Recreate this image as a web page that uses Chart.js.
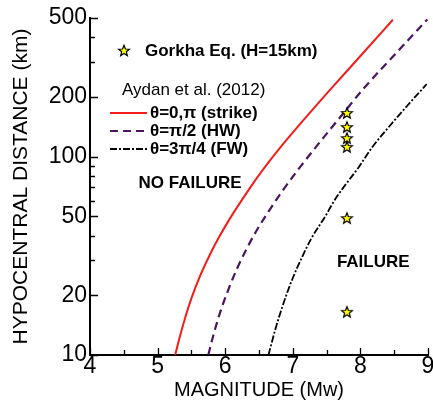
<!DOCTYPE html>
<html>
<head>
<meta charset="utf-8">
<script src="https://cdn.jsdelivr.net/npm/chart.js@4.4.1/dist/chart.umd.min.js"></script>
<style>
  html, body { margin: 0; padding: 0; background: #fff; }
</style>
</head>
<body>
<canvas id="chart" width="433" height="405"></canvas>
<script>
// Magnitude / hypocentral distance
const strikeMag = [5.26, 5.33, 5.41, 5.50, 5.63, 5.78, 5.92, 6.12, 6.32, 6.47, 6.64, 6.81, 7.03, 7.55, 8.04, 8.48];
const strikeDist = [10, 12.4, 15.5, 19.3, 25.1, 32.4, 39.9, 51.9, 65.9, 78.1, 93.5, 110.7, 136, 217, 333, 490];

const hwMag = [5.75, 5.82, 5.92, 6.05, 6.17, 6.29, 6.45, 6.65, 6.85, 7.11, 7.52, 7.70, 8.04, 8.54, 8.99];
const hwDist = [10, 12.4, 16.2, 21.5, 27, 32.9, 41.6, 53.5, 67.4, 88.8, 133, 158, 219, 336, 492];

const fwMag = [6.64, 6.74, 6.84, 6.98, 7.13, 7.28, 7.48, 7.62, 7.77, 7.97, 8.17, 8.34, 8.69, 8.98];
const fwDist = [10, 13.4, 17.3, 23.5, 30.8, 39, 50, 60.5, 71.5, 88, 111, 131, 180, 232];

const gorkhaMag = [7.8, 7.8, 7.8, 7.8, 7.8, 7.8];
const gorkhaDist = [166, 141, 124, 112, 49, 16.5];

const magTicks = [4, 5, 6, 7, 8, 9];
const magMinor = [4.5, 5.5, 6.5, 7.5, 8.5];
const distTicks = [10, 20, 50, 100, 200, 500];
const distMinor = [30, 40, 60, 70, 80, 90, 300, 400];

const FONT = '"Liberation Sans", Arial, sans-serif';
const RED = '#f51c1c';
const PURPLE = '#4c1460';
const HW_DASH = [8, 5];
const FW_DASH = [7, 2, 2, 2];

function toPoints(xs, ys) {
    return xs.map((x, i) => ({ x: x, y: ys[i] }));
}

function drawStar(ctx, cx, cy, rOut, rIn) {
    ctx.beginPath();
    for (let i = 0; i < 10; i++) {
        const r = i % 2 === 0 ? rOut : rIn;
        const a = -Math.PI / 2 + i * Math.PI / 5;
        const px = cx + r * Math.cos(a);
        const py = cy + r * Math.sin(a);
        if (i === 0) ctx.moveTo(px, py); else ctx.lineTo(px, py);
    }
    ctx.closePath();
    ctx.fillStyle = '#ffff00';
    ctx.fill();
    ctx.strokeStyle = '#000';
    ctx.lineWidth = 1.2;
    ctx.stroke();
}

// star marker as an image for the point style
const starImg = document.createElement('canvas');
starImg.width = 14;
starImg.height = 14;
drawStar(starImg.getContext('2d'), 7, 7.5, 5.7, 2.5);

const overlay = {
    id: 'overlay',
    afterDraw(chart) {
        const ctx = chart.ctx;
        const xs = chart.scales.x;
        const ys = chart.scales.y;
        const left = chart.chartArea.left;
        const bottom = chart.chartArea.bottom;

        // inward tick marks
        ctx.save();
        ctx.strokeStyle = '#000';
        ctx.lineWidth = 1.3;
        ctx.beginPath();
        distTicks.forEach(v => {
            const y = Math.round(ys.getPixelForValue(v)) + 0.5;
            ctx.moveTo(left, y);
            ctx.lineTo(left + 8, y);
        });
        distMinor.forEach(v => {
            const y = Math.round(ys.getPixelForValue(v)) + 0.5;
            ctx.moveTo(left, y);
            ctx.lineTo(left + 5, y);
        });
        magTicks.forEach(v => {
            const x = Math.round(xs.getPixelForValue(v)) + 0.5;
            ctx.moveTo(x, bottom);
            ctx.lineTo(x, bottom - 7);
        });
        magMinor.forEach(v => {
            const x = Math.round(xs.getPixelForValue(v)) + 0.5;
            ctx.moveTo(x, bottom);
            ctx.lineTo(x, bottom - 5);
        });
        ctx.stroke();

        // legend
        ctx.textBaseline = 'middle';
        ctx.textAlign = 'left';
        drawStar(ctx, 124, 51, 5.7, 2.5);
        ctx.fillStyle = '#000';
        ctx.font = 'bold 17px ' + FONT;
        ctx.fillText('Gorkha Eq. (H=15km)', 145, 51);
        ctx.font = '17px ' + FONT;
        ctx.fillText('Aydan et al. (2012)', 122, 90);

        const rows = [
            { y: 113, color: RED, dash: [], width: 2, label: '\u03b8=0,\u03c0 (strike)' },
            { y: 131, color: PURPLE, dash: HW_DASH, width: 2.2, label: '\u03b8=\u03c0/2 (HW)' },
            { y: 149, color: '#000', dash: FW_DASH, width: 1.8, label: '\u03b8=3\u03c0/4 (FW)' }
        ];
        rows.forEach(row => {
            ctx.beginPath();
            ctx.strokeStyle = row.color;
            ctx.lineWidth = row.width;
            ctx.setLineDash(row.dash);
            ctx.moveTo(110, row.y);
            ctx.lineTo(147, row.y);
            ctx.stroke();
            ctx.setLineDash([]);
            ctx.fillStyle = '#000';
            ctx.font = 'bold 17px ' + FONT;
            ctx.fillText(row.label, 150, row.y);
        });

        // region labels
        ctx.textAlign = 'center';
        ctx.font = 'bold 17px ' + FONT;
        ctx.fillText('NO FAILURE', xs.getPixelForValue(5.48), ys.getPixelForValue(73.6));
        ctx.fillText('FAILURE', xs.getPixelForValue(8.19), ys.getPixelForValue(29.4));
        ctx.restore();
    }
};

new Chart(document.getElementById('chart'), {
    type: 'scatter',
    data: {
        datasets: [
            {
                label: 'Gorkha Eq. (H=15km)',
                data: toPoints(gorkhaMag, gorkhaDist),
                pointStyle: starImg,
                showLine: false
            },
            {
                label: '\u03b8=0,\u03c0 (strike)',
                data: toPoints(strikeMag, strikeDist),
                showLine: true,
                borderColor: RED,
                borderWidth: 2,
                pointRadius: 0,
                cubicInterpolationMode: 'monotone'
            },
            {
                label: '\u03b8=\u03c0/2 (HW)',
                data: toPoints(hwMag, hwDist),
                showLine: true,
                borderColor: PURPLE,
                borderWidth: 2.2,
                borderDash: HW_DASH,
                pointRadius: 0,
                cubicInterpolationMode: 'monotone'
            },
            {
                label: '\u03b8=3\u03c0/4 (FW)',
                data: toPoints(fwMag, fwDist),
                showLine: true,
                borderColor: '#000',
                borderWidth: 1.8,
                borderDash: FW_DASH,
                pointRadius: 0,
                cubicInterpolationMode: 'monotone'
            }
        ]
    },
    options: {
        responsive: false,
        devicePixelRatio: 1,
        animation: false,
        layout: { padding: { top: 18, right: 5, left: 0, bottom: 0 } },
        plugins: {
            legend: { display: false },
            tooltip: { enabled: false }
        },
        scales: {
            x: {
                type: 'linear',
                min: 4,
                max: 9,
                afterBuildTicks: scale => {
                    scale.ticks = magTicks.map(v => ({ value: v }));
                },
                afterFit: scale => {
                    scale.height = 50;
                    scale.paddingLeft = 0;
                    scale.paddingRight = 0;
                },
                grid: { display: false, drawTicks: false },
                border: { display: true, color: '#000', width: 2 },
                ticks: {
                    autoSkip: false,
                    maxRotation: 0,
                    padding: 0,
                    color: '#000',
                    font: { family: FONT, size: 23, lineHeight: 1 }
                },
                title: {
                    display: true,
                    text: 'MAGNITUDE (Mw)',
                    color: '#000',
                    padding: { top: 0, bottom: 3 },
                    font: { family: FONT, size: 20 }
                }
            },
            y: {
                type: 'logarithmic',
                min: 10,
                max: 500,
                afterBuildTicks: scale => {
                    scale.ticks = distTicks.concat(distMinor)
                        .sort((a, b) => a - b)
                        .map(v => ({ value: v }));
                },
                afterFit: scale => {
                    scale.width = 90;
                },
                grid: { display: false, drawTicks: false },
                border: { display: true, color: '#000', width: 2 },
                ticks: {
                    autoSkip: false,
                    padding: 3,
                    color: '#000',
                    font: { family: FONT, size: 23, lineHeight: 1 },
                    callback: v => distTicks.includes(v) ? String(v) : ''
                },
                title: {
                    display: true,
                    text: 'HYPOCENTRAL DISTANCE (km)',
                    color: '#000',
                    padding: { top: 9, bottom: 0 },
                    font: { family: FONT, size: 21 }
                }
            }
        }
    },
    plugins: [overlay]
});
</script>
</body>
</html>
